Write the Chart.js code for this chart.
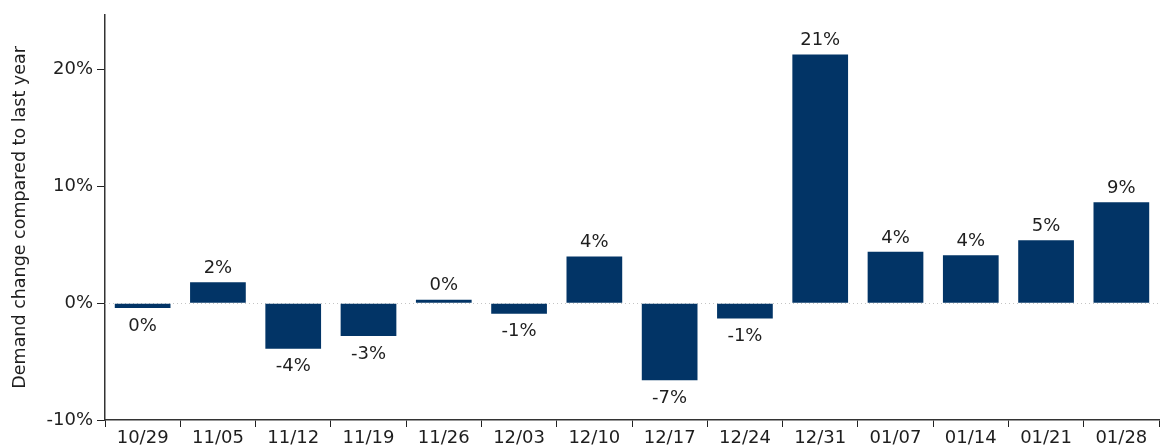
<!DOCTYPE html>
<html>
<head>
<meta charset="utf-8">
<script src="https://cdn.jsdelivr.net/npm/chart.js@4/dist/chart.umd.min.js"></script>
<style>
  html, body { margin: 0; padding: 0; background: #fff; }
  #wrap { width: 1161px; height: 447px; }
</style>
</head>
<body>
<div id="wrap"><canvas id="demandChart"></canvas></div>
<script>
    var weeks = ['10/29', '11/05', '11/12', '11/19', '11/26', '12/03', '12/10',
                 '12/17', '12/24', '12/31', '01/07', '01/14', '01/21', '01/28'];
    var demandChange = [-0.4, 1.8, -3.9, -2.8, 0.3, -0.9, 4.0,
                        -6.6, -1.3, 21.3, 4.4, 4.1, 5.4, 8.65];
    var yTicks = [-10, 0, 10, 20];

    var textColor = '#1e1e1e';
    var font = { family: 'DejaVu Sans', size: 18 };

    // dotted line at 0%
    var zeroLine = {
        id: 'zeroLine',
        beforeDatasetsDraw: function(chart) {
            var ctx = chart.ctx;
            var area = chart.chartArea;
            var y = Math.round(chart.scales.y.getPixelForValue(0)) + 0.5;
            ctx.save();
            ctx.strokeStyle = '#c4c4c4';
            ctx.lineWidth = 1;
            ctx.setLineDash([1, 3]);
            ctx.beginPath();
            ctx.moveTo(area.left, y);
            ctx.lineTo(area.right, y);
            ctx.stroke();
            ctx.restore();
        }
    };

    // value labels above / below each bar
    var barLabels = {
        id: 'barLabels',
        afterDatasetsDraw: function(chart) {
            var ctx = chart.ctx;
            var meta = chart.getDatasetMeta(0);
            ctx.save();
            ctx.font = font.size + 'px ' + font.family;
            ctx.fillStyle = textColor;
            ctx.textAlign = 'center';
            meta.data.forEach(function(bar, i) {
                var v = demandChange[i];
                var txt = Math.round(v) + '%';
                if (txt === '-0%') txt = '0%';
                if (v >= 0) {
                    ctx.textBaseline = 'bottom';
                    ctx.fillText(txt, bar.x, bar.y - 5);
                } else {
                    ctx.textBaseline = 'top';
                    ctx.fillText(txt, bar.x, bar.y + 9);
                }
            });
            ctx.restore();
        }
    };

    new Chart(document.getElementById('demandChart'), {
        type: 'bar',
        data: {
            labels: weeks,
            datasets: [{
                label: 'Demand change',
                data: demandChange,
                backgroundColor: '#023466',
                barPercentage: 0.74,
                categoryPercentage: 1
            }]
        },
        plugins: [zeroLine, barLabels],
        options: {
            responsive: true,
            maintainAspectRatio: false,
            animation: false,
            layout: { padding: { top: 12, right: 2, left: 0, bottom: 0 } },
            plugins: {
                legend: { display: false },
                tooltip: { enabled: false }
            },
            scales: {
                x: {
                    grid: {
                        display: true,
                        offset: true,
                        drawOnChartArea: false,
                        tickLength: 7,
                        tickColor: '#222'
                    },
                    border: { color: '#333', width: 1.5 },
                    ticks: { color: textColor, font: font, padding: 1, maxRotation: 0 },
                    afterFit: function(scale) { scale.height = 27; }
                },
                y: {
                    min: -10,
                    max: 24.7,
                    afterBuildTicks: function(scale) {
                        scale.ticks = yTicks.map(function(v) { return { value: v }; });
                    },
                    grid: {
                        display: true,
                        drawOnChartArea: false,
                        tickLength: 8,
                        tickColor: '#222'
                    },
                    border: { color: '#333', width: 1.5 },
                    ticks: {
                        color: textColor,
                        font: font,
                        padding: 4,
                        callback: function(value) {
                            return value + '%';
                        }
                    },
                    title: {
                        display: true,
                        text: 'Demand change compared to last year',
                        color: textColor,
                        font: { family: 'DejaVu Sans', size: 17.5 },
                        padding: { top: 10, bottom: 0 }
                    },
                    afterFit: function(scale) { scale.width = 105; }
                }
            }
        }
    });
</script>
</body>
</html>
